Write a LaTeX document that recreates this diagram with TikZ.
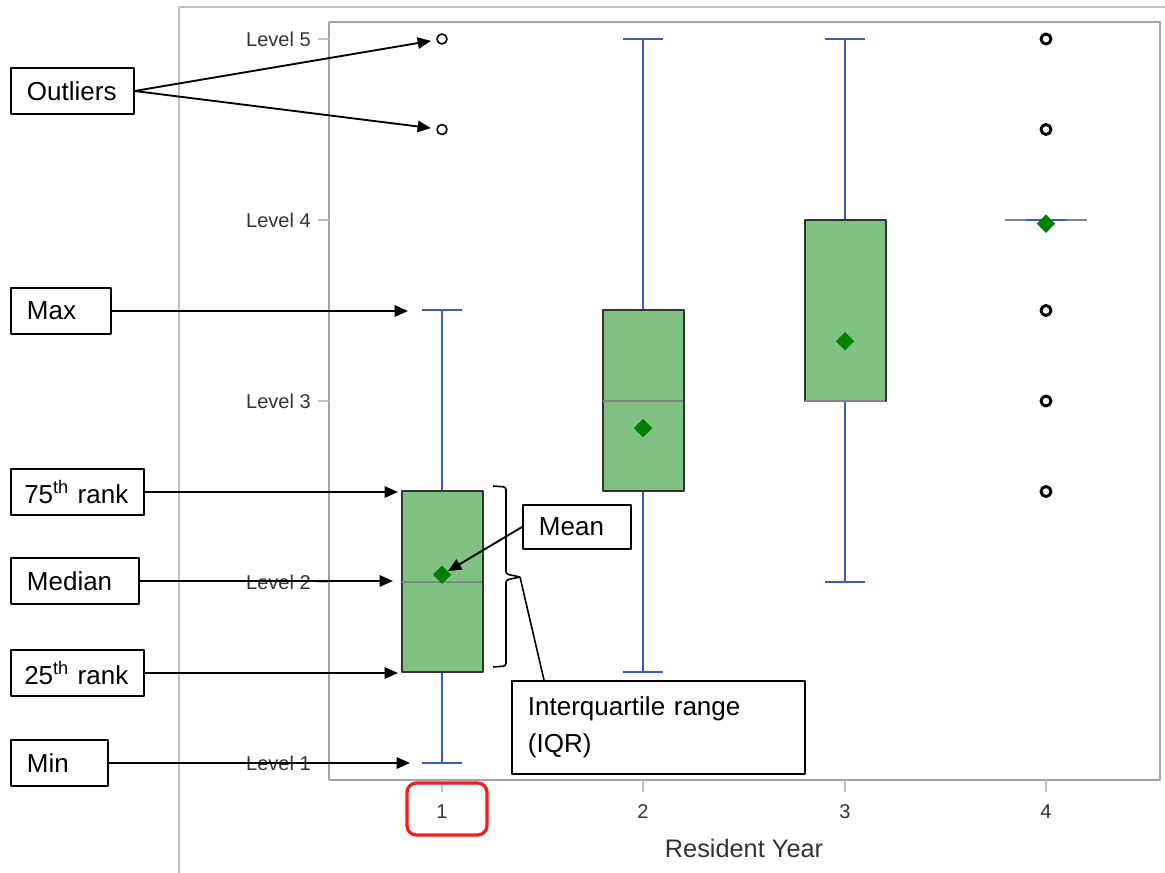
\documentclass[tikz,border=0pt]{standalone}
\usepackage{fontspec}
\setmainfont{Liberation Sans}
\usepackage{tikz}
\usetikzlibrary{calc,arrows.meta,shapes.geometric,positioning}
\definecolor{boxgreen}{HTML}{80C282}
\definecolor{whiskerblue}{HTML}{3A5BC0}
\definecolor{mediangray}{HTML}{858585}
\definecolor{meangreen}{HTML}{008000}
\definecolor{framegray}{HTML}{BDC1C5}
\definecolor{axistext}{HTML}{333333}
\definecolor{markred}{HTML}{FF1A1A}
\tikzset{
  CalloutBox/.style={
    draw, line width=1.4pt, fill=white,
    inner xsep=12pt, inner ysep=0pt,
    minimum height=35pt, text width=#1, align=left,
    font=\fontsize{19.5}{28}\selectfont
  },
  CalloutArrow/.style={line width=1.4pt, -{Triangle[length=10pt,width=8.5pt]}},
  WhiskerLine/.style={whiskerblue, line width=1.5pt},
  BoxBody/.style={draw=black!80, line width=1.5pt, fill=boxgreen},
  MedianLine/.style={mediangray, line width=2.2pt},
  MeanMark/.style={diamond, fill=meangreen, inner sep=0pt, minimum width=14pt, minimum height=14pt},
  OutlierMark/.style={circle, draw=black, fill=white, line width=#1, inner sep=0pt, minimum size=7.5pt},
  OutlierMark/.default=1.2pt,
  LevelLabel/.style={anchor=east, text=axistext, inner sep=0pt, font=\fontsize{15}{18}\selectfont},
  FrameLine/.style={draw=framegray, line width=1pt}
}
\newcommand{\BoxColumn}[7]{%
  % #1 = column, #2 = min, #3 = Q1, #4 = median, #5 = Q3, #6 = max, #7 = mean
  \pgfmathsetmacro{\cx}{round(240.7+201.3*#1)}
  \draw[WhiskerLine] (\cx,#2) -- (\cx,#3) (\cx,#5) -- (\cx,#6);
  \draw[WhiskerLine] ({\cx-20},#2) -- ({\cx+20},#2) ({\cx-20},#6) -- ({\cx+20},#6);
  \draw[BoxBody] ({\cx-40.5},#3) rectangle ({\cx+40.5},#5);
  \draw[MedianLine] ({\cx-40},#4) -- ({\cx+40},#4);
  \node[MeanMark] (mean#1) at (\cx,#7) {};
}

\begin{document}
\begin{tikzpicture}[x=0.75pt, y=-0.75pt, line join=round]
  \useasboundingbox (0,0) rectangle (1165,873);

  % frames
  \draw[FrameLine] (179,873) |- (1165,7);
  \draw[FrameLine, draw=framegray!85!black] (329,22) rectangle (1160,780);

  % x axis
  \foreach \i in {1,...,4} {
    \pgfmathsetmacro{\cx}{round(240.7+201.3*\i)}
    \draw[FrameLine] (\cx,780) -- (\cx,792);
    \node[text=axistext, font=\fontsize{15}{18}\selectfont] (xt\i) at (\cx,812) {\i};
  }
  \node[text=axistext, font=\fontsize{19}{22}\selectfont] (xlabel) at (744,848) {Resident Year};

  \begin{scope}[shift={(0,944)}, y=135.75pt]
    % y axis
    \foreach \k in {1,...,5} {
      \draw[FrameLine] (318,\k) -- (329,\k);
      \node[LevelLabel] (lv\k) at (311,\k) {Level \k};
    }

    \BoxColumn{1}{1}{1.5}{2}{2.5}{3.5}{2.04}
    \BoxColumn{2}{1.5}{2.5}{3}{3.5}{5}{2.85}
    \BoxColumn{3}{2}{3}{3}{4}{5}{3.33}

    % year 4: all quartiles at Level 4
    \draw[MedianLine] (1005,4) -- (1087,4);
    \draw[WhiskerLine] (1026,4) -- (1066,4);
    \node[MeanMark] (mean4) at (1046,3.98) {};

    \node[OutlierMark] (out1a) at (442,5) {};
    \node[OutlierMark] (out1b) at (442,4.5) {};
    \foreach \v [count=\j] in {5,4.5,3.5,3,2.5}
      \node[OutlierMark=2.2pt] (out4\j) at (1046,\v) {};
  \end{scope}

  % callouts
  \node[CalloutBox=68pt, anchor=west] (outliers) at (10,91) {Outliers};
  \node[CalloutBox=51pt, anchor=west] (max) at (10,311) {Max};
  \node[CalloutBox=80pt, inner xsep=10pt, anchor=west] (q3) at (10,492) {75\textsuperscript{th} rank};
  \node[CalloutBox=72pt, anchor=west] (median) at (10,581) {Median};
  \node[CalloutBox=80pt, inner xsep=10pt, anchor=west] (q1) at (10,673) {25\textsuperscript{th} rank};
  \node[CalloutBox=49pt, anchor=west] (min) at (10,763) {Min};
  \node[CalloutBox=57pt, anchor=west, minimum height=33pt] (mean) at (522,527) {Mean};
  \node[CalloutBox=196pt, anchor=north west, minimum height=70pt] (iqr) at (511,680) {Interquartile range\\(IQR)};

  \coordinate (MaxTip) at (408,311);
  \coordinate (Q3Tip) at (398,492);
  \coordinate (MedTip) at (393,581);
  \coordinate (Q1Tip) at (398,673);
  \coordinate (MinTip) at (410,763);
  \coordinate (BraceTip) at (520,577);

  \draw[CalloutArrow, shorten >=4pt] (outliers.east) -- (out1a);
  \draw[CalloutArrow, shorten >=4pt] (outliers.east) -- (out1b);
  \draw[CalloutArrow] (max) -- (MaxTip);
  \draw[CalloutArrow] (q3) -- (Q3Tip);
  \draw[CalloutArrow] (median) -- (MedTip);
  \draw[CalloutArrow] (q1) -- (Q1Tip);
  \draw[CalloutArrow] (min) -- (MinTip);
  \draw[CalloutArrow] (mean.west) -- (mean1);

  % IQR brace
  \draw[line width=1.2pt, rounded corners=2pt] (493,486) -- (506,487) -- (506,574) -- (BraceTip);
  \draw[line width=1.2pt, rounded corners=2pt] (BraceTip) -- (506,580) -- (506,666) -- (493,667);
  \draw[line width=1.2pt] (BraceTip) -- ($(iqr.north west)+(33,0)$);

  \draw[markred, line width=2.4pt, rounded corners=7pt] (407,783) rectangle (487,835);
\end{tikzpicture}
\end{document}
